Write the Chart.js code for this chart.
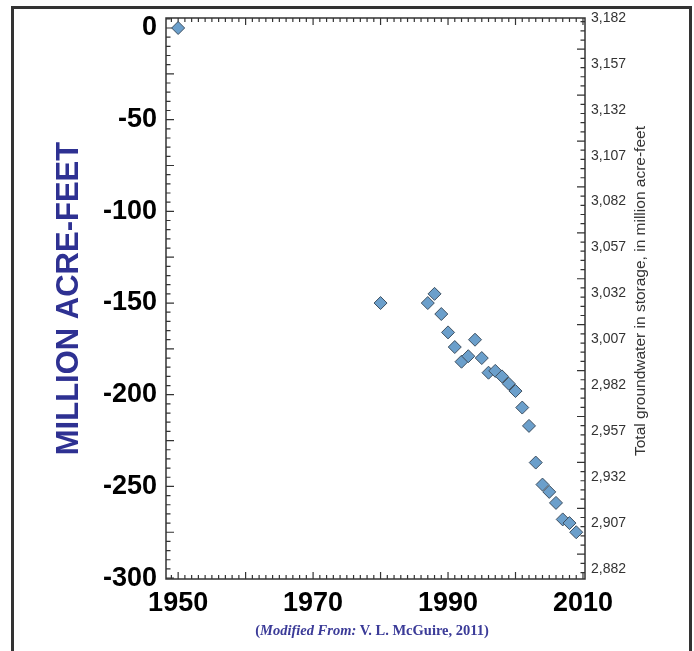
<!DOCTYPE html>
<html>
<head>
<meta charset="utf-8">
<script src="https://cdn.jsdelivr.net/npm/chart.js@4.4.0/dist/chart.umd.min.js"></script>
<style>
  body { margin: 0; background: #fff; }
  #wrap { position: relative; width: 694px; height: 651px; overflow: hidden; }
  #frame { position: absolute; left: 11px; top: 6px; width: 675px; height: 700px; border: 3px solid #333; }
  #chart { position: absolute; left: 0; top: 0; }
  #rightTitle {
    position: absolute; left: 640px; top: 291px; white-space: nowrap;
    transform: translate(-50%, -50%) rotate(-90deg);
    font: 15.5px "Liberation Sans", sans-serif; color: #333;
  }
  #credit {
    position: absolute; left: 0; width: 744px; top: 622px; text-align: center;
    font: bold 14.5px "Liberation Serif", serif; color: #3b3b98;
  }
</style>
</head>
<body>
<div id="wrap">
  <div id="frame"></div>
  <canvas id="chart" width="694" height="651"></canvas>
  <div id="rightTitle">Total groundwater in storage, in million acre-feet</div>
  <div id="credit">(<i>Modified From:</i> V. L. McGuire, 2011)</div>
</div>
<script>
// ---- Data ----
const years = [1950, 1980, 1987, 1988, 1989, 1990, 1991, 1992, 1993, 1994, 1995, 1996,
  1997, 1998, 1999, 2000, 2001, 2002, 2003, 2004, 2005, 2006, 2007, 2008, 2009];
const storageChange = [0, -150, -150, -145, -156, -166, -174, -182, -179, -170, -180, -188,
  -187, -190, -194, -198, -207, -217, -237, -249, -253, -259, -268, -270, -275];
const yearTicks = [1950, 1970, 1990, 2010];
const changeTicks = [0, -50, -100, -150, -200, -250, -300];
const totalTicks = [3182, 3157, 3132, 3107, 3082, 3057, 3032, 3007, 2982, 2957, 2932, 2907, 2882];

const sans = '"Liberation Sans", Arial, sans-serif';

// ---- Frame with inward tick marks ----
const frameTicks = {
  id: 'frameTicks',
  beforeDatasetsDraw(chart) {
    const { ctx, chartArea: a, scales } = chart;
    ctx.save();
    ctx.strokeStyle = '#333';
    ctx.lineWidth = 1.5;
    ctx.strokeRect(a.left, a.top, a.right - a.left, a.bottom - a.top);
    ctx.lineWidth = 1.2;
    ctx.beginPath();
    for (let yr = 1949; yr <= 2010; yr++) {
      const x = scales.x.getPixelForValue(yr);
      const len = yr % 10 === 0 ? 7 : 4;
      ctx.moveTo(x, a.top); ctx.lineTo(x, a.top + len);
      ctx.moveTo(x, a.bottom); ctx.lineTo(x, a.bottom - len);
    }
    for (let v = 5; v >= -300; v -= 5) {
      const y = scales.y.getPixelForValue(v);
      const len = v % 25 === 0 ? 8 : 4.5;
      ctx.moveTo(a.left, y); ctx.lineTo(a.left + len, y);
    }
    for (let r = 2880; r <= 3180; r += 5) {
      const y = scales.y2.getPixelForValue(r);
      const len = (r - 2890) % 25 === 0 ? 8 : 4.5;
      ctx.moveTo(a.right, y); ctx.lineTo(a.right - len, y);
    }
    ctx.stroke();
    ctx.restore();
  }
};

new Chart(document.getElementById('chart'), {
  type: 'scatter',
  data: {
    datasets: [{
      data: years.map((yr, i) => ({ x: yr, y: storageChange[i] })),
      pointStyle: 'rectRot',
      pointRadius: 6.5,
      backgroundColor: '#6b9fcb',
      borderColor: '#3d4f60',
      borderWidth: 1
    }]
  },
  options: {
    responsive: false,
    animation: false,
    layout: { padding: { top: 18, left: 40, right: 0, bottom: 0 } },
    plugins: { legend: { display: false }, tooltip: { enabled: false } },
    scales: {
      x: {
        type: 'linear', min: 1948.2, max: 2010.3,
        grid: { display: false, drawTicks: false },
        border: { display: false },
        afterBuildTicks: s => { s.ticks = yearTicks.map(v => ({ value: v })); },
        afterFit: s => { s.height = 72; s.paddingLeft = 0; s.paddingRight = 0; },
        ticks: {
          autoSkip: false, maxRotation: 0, padding: 8, color: '#000',
          font: { family: sans, size: 27, weight: 'bold' },
          callback: v => String(v)
        }
      },
      y: {
        position: 'left', min: -300.5, max: 5.45,
        grid: { display: false, drawTicks: false },
        border: { display: false },
        afterBuildTicks: s => { s.ticks = changeTicks.map(v => ({ value: v })); },
        afterFit: s => { s.width = 126; s.paddingTop = 0; s.paddingBottom = 0; },
        title: {
          display: true, text: 'MILLION ACRE-FEET', color: '#2e3192',
          font: { family: sans, size: 31, weight: 'bold' },
          padding: { top: 11, bottom: 0 }
        },
        ticks: {
          autoSkip: false, padding: 9, color: '#000',
          font: { family: sans, size: 27, weight: 'bold' },
          callback: v => String(v)
        }
      },
      y2: {
        position: 'right', min: 2876.5, max: 3182,
        grid: { display: false, drawTicks: false },
        border: { display: false },
        afterBuildTicks: s => { s.ticks = totalTicks.map(v => ({ value: v })); },
        afterFit: s => { s.width = 109; s.paddingTop = 0; s.paddingBottom = 0; },
        ticks: {
          autoSkip: false, padding: 6, color: '#333',
          font: { family: sans, size: 14 },
          callback: v => v.toLocaleString('en-US')
        }
      }
    }
  },
  plugins: [frameTicks]
});
</script>
</body>
</html>
